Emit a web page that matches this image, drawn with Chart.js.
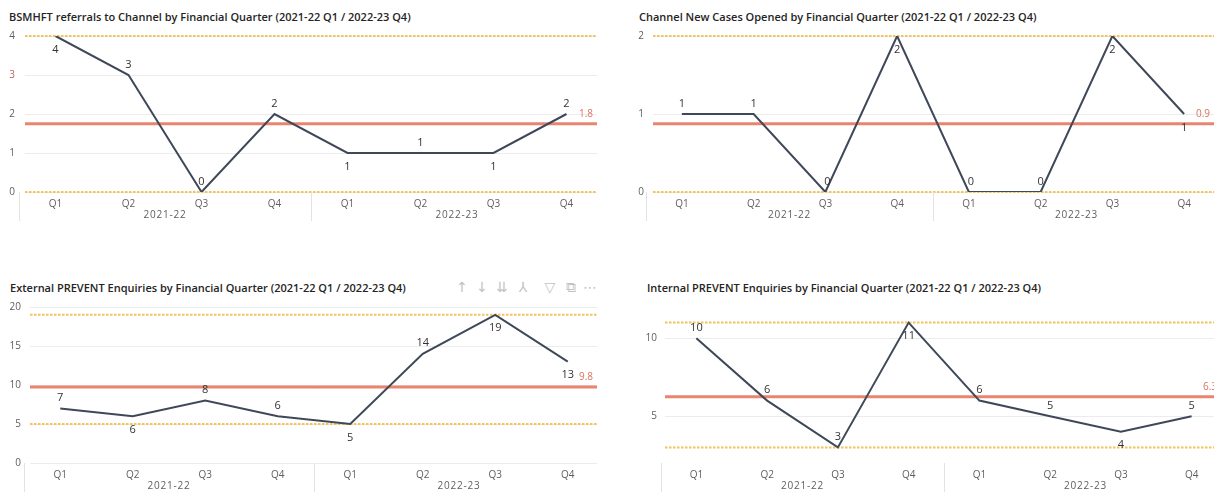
<!DOCTYPE html>
<html>
<head>
<meta charset="utf-8">
<script src="https://cdn.jsdelivr.net/npm/chart.js@4"></script>
<style>
  html, body { margin: 0; padding: 0; background: #fff; width: 1214px; height: 496px; overflow: hidden; position: relative; }
  .box { position: absolute; }
  .title { position: absolute; font-family: "Open Sans", sans-serif; font-weight: 600; font-size: 11px; color: #252423; white-space: nowrap; line-height: 14px; }
  .icons { position: absolute; top: 279px; font-family: "DejaVu Sans", sans-serif; font-size: 14px; color: #c2c2c2; line-height: 16px; }
  .icons span { position: absolute; transform: translateX(-50%); white-space: nowrap; }
</style>
</head>
<body>
<div class="title" style="left:9px; top:10px;">BSMHFT referrals to Channel by Financial Quarter (2021-22 Q1 / 2022-23 Q4)</div>
<div class="title" style="left:639px; top:10px;">Channel New Cases Opened by Financial Quarter (2021-22 Q1 / 2022-23 Q4)</div>
<div class="title" style="left:10px; top:281px;">External PREVENT Enquiries by Financial Quarter (2021-22 Q1 / 2022-23 Q4)</div>
<div class="title" style="left:647px; top:281px;">Internal PREVENT Enquiries by Financial Quarter (2021-22 Q1 / 2022-23 Q4)</div>
<div class="icons">
  <span style="left:462px">↑</span><span style="left:482px">↓</span><span style="left:502px">⇊</span><span style="left:523px">⅄</span><span style="left:550px">▽</span><span style="left:571px">⧉</span><span style="left:590px">⋯</span>
</div>

<div class="box" style="left:0; top:0;"><canvas id="c1" width="610" height="230"></canvas></div>
<div class="box" style="left:620px; top:0;"><canvas id="c2" width="610" height="230"></canvas></div>
<div class="box" style="left:0; top:270px;"><canvas id="c3" width="610" height="226"></canvas></div>
<div class="box" style="left:620px; top:270px;"><canvas id="c4" width="620" height="226"></canvas></div>

<script>
// ---- data ----
const quarters = ['Q1', 'Q2', 'Q3', 'Q4', 'Q1', 'Q2', 'Q3', 'Q4'];
const years = ['2021-22', '2022-23'];

const referrals = [4, 3, 0, 2, 1, 1, 1, 2];
const referralsTicks = [0, 1, 2, 3, 4];
const referralsAvg = 1.75;
const referralsBand = [0, 4];

const newCases = [1, 1, 0, 2, 0, 0, 2, 1];
const newCasesTicks = [0, 1, 2];
const newCasesAvg = 0.875;
const newCasesBand = [0, 2];

const externalEnq = [7, 6, 8, 6, 5, 14, 19, 13];
const externalTicks = [0, 5, 10, 15, 20];
const externalAvg = 9.75;
const externalBand = [5, 19];

const internalEnq = [10, 6, 3, 11, 6, 5, 4, 5];
const internalTicks = [5, 10];
const internalAvg = 6.25;
const internalBand = [3, 11];

// ---- styles ----
const LINE = '#3e4858';
const AVG = '#e9846f';
const BAND = '#f4c35c';
const GRID = '#ececec';
const TICK = '#605e5c';
const FONT = '"Open Sans", sans-serif';

const decor = {
  id: 'decor',
  beforeDatasetsDraw(chart, args, o) {
    const ctx = chart.ctx, a = chart.chartArea, y = chart.scales.y, x = chart.scales.x;
    const l = a.left + o.inL, r = a.right - o.inR;
    ctx.save();
    // grid
    ctx.strokeStyle = GRID; ctx.lineWidth = 1;
    o.grid.forEach(v => {
      const py = Math.round(y.getPixelForValue(v)) + 0.5;
      ctx.beginPath(); ctx.moveTo(l, py); ctx.lineTo(r, py); ctx.stroke();
    });
    // min/max dotted
    ctx.strokeStyle = BAND; ctx.lineWidth = 2; ctx.setLineDash([2.5, 1.5]);
    o.band.forEach(v => {
      const py = y.getPixelForValue(v);
      ctx.beginPath(); ctx.moveTo(l, py); ctx.lineTo(r, py); ctx.stroke();
    });
    ctx.setLineDash([]);
    // average
    const ay = y.getPixelForValue(o.avg);
    ctx.strokeStyle = AVG; ctx.lineWidth = 3;
    ctx.beginPath(); ctx.moveTo(l, ay); ctx.lineTo(r, ay); ctx.stroke();
    ctx.fillStyle = '#d9735f'; ctx.font = '10px ' + FONT;
    ctx.textAlign = 'right'; ctx.textBaseline = 'middle';
    ctx.fillText(o.avg.toFixed(1), r - 4, ay - 10);
    // separators + group labels
    ctx.strokeStyle = '#e3e3e3'; ctx.lineWidth = 1;
    [a.left, (x.getPixelForValue(3) + x.getPixelForValue(4)) / 2].forEach(px => {
      const sx = Math.round(px) + 0.5;
      ctx.beginPath(); ctx.moveTo(sx, a.bottom); ctx.lineTo(sx, a.bottom + 29); ctx.stroke();
    });
    ctx.fillStyle = TICK; ctx.font = '10px ' + FONT; ctx.textAlign = 'center';
    ctx.letterSpacing = '0.8px';
    years.forEach((yr, i) => {
      const cx = (x.getPixelForValue(i * 4 + 1) + x.getPixelForValue(i * 4 + 2)) / 2;
      ctx.fillText(yr, cx, a.bottom + 23);
    });
    ctx.letterSpacing = '0px';
    ctx.restore();
  },
  afterDatasetsDraw(chart, args, o) {
    const ctx = chart.ctx, meta = chart.getDatasetMeta(0), data = chart.data.datasets[0].data;
    ctx.save();
    ctx.fillStyle = '#333333'; ctx.font = '11px ' + FONT;
    ctx.textAlign = 'center'; ctx.textBaseline = 'middle';
    meta.data.forEach((pt, i) => {
      const below = o.sides[i] === 'b';
      ctx.fillText(String(data[i]), pt.x + (o.dx ? o.dx[i] : 0), pt.y + (below ? 13.5 : -10.5));
    });
    ctx.restore();
  }
};

function make(id, values, ticks, min, max, avg, band, geo, sides, tickColor, dx) {
  return new Chart(document.getElementById(id), {
    type: 'line',
    data: {
      labels: quarters,
      datasets: [{ data: values, borderColor: LINE, borderWidth: 2, pointRadius: 0, tension: 0, fill: false }]
    },
    options: {
      responsive: false, animation: false, devicePixelRatio: 1,
      layout: { padding: { left: 0, top: geo.top, right: geo.right, bottom: geo.bottom } },
      plugins: {
        legend: { display: false }, tooltip: { enabled: false },
        decor: { grid: ticks, band: band, avg: avg, sides: sides, inL: geo.inL, inR: geo.inR, dx: dx }
      },
      scales: {
        x: {
          type: 'category', offset: true,
          grid: { display: false, drawTicks: false }, border: { display: false },
          ticks: { padding: 6, autoSkip: false, maxRotation: 0, color: TICK, font: { family: FONT, size: 10 } },
          afterFit(s) { s.height = 30; }
        },
        y: {
          min: min, max: max,
          grid: { display: false, drawTicks: false }, border: { display: false },
          ticks: { padding: geo.tp, color: tickColor || TICK, font: { family: FONT, size: 10 } },
          afterBuildTicks(s) { s.ticks = ticks.map(v => ({ value: v })); },
          afterFit(s) { s.width = geo.yw; }
        }
      }
    },
    plugins: [decor]
  });
}

make('c1', referrals, referralsTicks, 0, 4, referralsAvg, referralsBand,
  { top: 36, right: 7, bottom: 8, yw: 19, tp: 4, inL: 6, inR: 6 },
  ['b', 'a', 'a', 'a', 'b', 'a', 'b', 'a'],
  c => (c.tick && c.tick.value === 3) ? '#b5675c' : TICK);

make('c2', newCases, newCasesTicks, 0, 2, newCasesAvg, newCasesBand,
  { top: 36, right: 10, bottom: 8, yw: 26, tp: 2, inL: 7, inR: 6 },
  ['a', 'a', 'a', 'b', 'a', 'a', 'b', 'b'], null, [0, 0, 2, 0, 2, 0, 0, 0]);

make('c3', externalEnq, externalTicks, 0, 20, externalAvg, externalBand,
  { top: 37, right: 6, bottom: 3, yw: 24, tp: 3, inL: 6, inR: 7 },
  ['a', 'b', 'a', 'a', 'b', 'a', 'b', 'b']);

make('c4', internalEnq, internalTicks, 2, 12, internalAvg, internalBand,
  { top: 37, right: 13, bottom: 3, yw: 41, tp: 4, inL: 4, inR: 6 },
  ['a', 'a', 'a', 'b', 'a', 'a', 'b', 'a']);
</script>
</body>
</html>
